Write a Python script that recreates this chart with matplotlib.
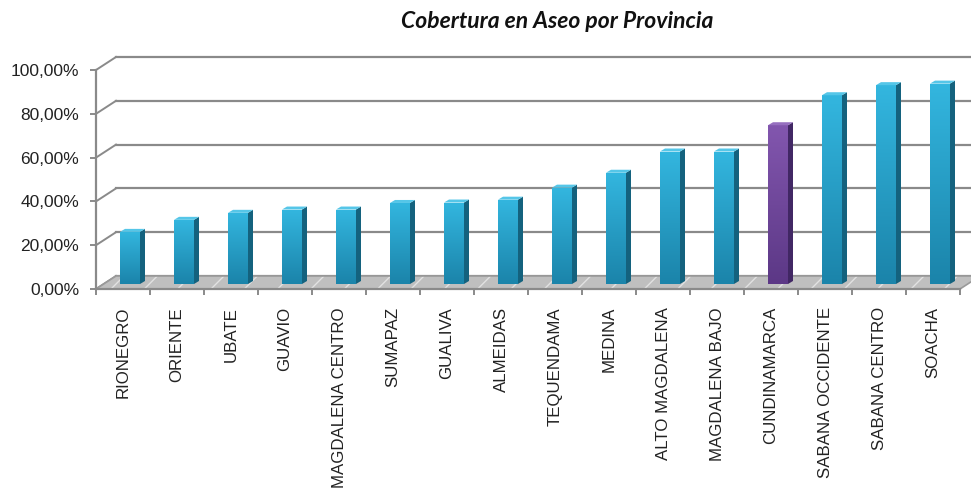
import numpy as np
import matplotlib
matplotlib.use("Agg")
import matplotlib.pyplot as plt
from matplotlib.patches import Polygon
from matplotlib.ticker import FixedLocator, FuncFormatter

# ---------------------------
# Data
# ---------------------------
provincias = ["RIONEGRO", "ORIENTE", "UBATE", "GUAVIO", "MAGDALENA CENTRO",
              "SUMAPAZ", "GUALIVA", "ALMEIDAS", "TEQUENDAMA", "MEDINA",
              "ALTO MAGDALENA", "MAGDALENA BAJO", "CUNDINAMARCA",
              "SABANA OCCIDENTE", "SABANA CENTRO", "SOACHA"]
cobertura = [23.8, 29.3, 32.5, 34.0, 34.0, 37.0, 37.2, 38.5, 44.0,
             50.8, 60.5, 60.5, 72.5, 86.2, 90.8, 91.5]
destacado = "CUNDINAMARCA"
y_ticks = [0, 20, 40, 60, 80, 100]

# ---------------------------
# Geometry of the fake 3D box
# ---------------------------
W, H, DPI = 971, 494, 100
PX_X, PX_Y = 54.0, 2.19          # pixels per category / per percent
X0, Y0 = 96, 289                 # pixel position of (0, 0)
xmin, xmax = -0.05, 16.4
ymin, ymax = -3, 110

depth_x, depth_y = 20 / PX_X, 13 / PX_Y      # back wall offset
bar_dx, bar_dy = 7 / PX_X, 5 / PX_Y          # bar depth position
bar_w = 20 / PX_X
side_dx, side_dy = 5 / PX_X, 3 / PX_Y

fig = plt.figure(figsize=(W / DPI, H / DPI), dpi=DPI)
left = (X0 + xmin * PX_X) / W
width = (xmax - xmin) * PX_X / W
bottom = 1 - (Y0 - ymin * PX_Y) / H
height = (ymax - ymin) * PX_Y / H
ax = fig.add_axes([left, bottom, width, height])

grid_c = "#8a8a8a"
n = len(provincias)

# back wall gridlines + left wall slants
for g in y_ticks:
    ax.plot([depth_x, n + depth_x + 1], [g + depth_y, g + depth_y],
            color=grid_c, lw=1.6, zorder=1)
    ax.plot([0, depth_x], [g, g + depth_y], color=grid_c, lw=1.4, zorder=1)

# floor
floor_pts = [(0, 0), (n, 0), (n + depth_x, depth_y), (depth_x, depth_y)]
ax.add_patch(Polygon(floor_pts, closed=True, facecolor="#bfbfbf",
                     edgecolor="#e2e2e2", hatch="/", lw=0, zorder=2))
ax.add_patch(Polygon(floor_pts, closed=True, fill=False,
                     edgecolor="#9a9a9a", lw=1.2, zorder=2))

# bars
x_front = np.arange(n) + 0.5 + bar_dx - bar_w / 2
cols = []
for p in provincias:
    cols.append("purple" if p == destacado else "cyan")

palette = {
    "cyan": ("#33b6df", "#1b84aa", "#14627e", "#55c6e8"),
    "purple": ("#8256ae", "#5c3886", "#412764", "#966fbf"),
}

bars = ax.bar(x_front, cobertura, width=bar_w, bottom=bar_dy, align="edge",
              color=[palette[c][1] for c in cols], lw=0, zorder=4)

for rect, val, c in zip(bars, cobertura, cols):
    top_c, bot_c, side_c, cap_c = palette[c]
    x0 = rect.get_x()
    x1 = x0 + rect.get_width()
    y0 = rect.get_y()
    y1 = y0 + rect.get_height()
    # vertical gradient on the front face
    grad = np.linspace(0, 1, 64).reshape(-1, 1)
    cmap = matplotlib.colors.LinearSegmentedColormap.from_list("g", [bot_c, top_c])
    im = ax.imshow(grad, extent=(x0, x1, y0, y1), origin="lower", cmap=cmap,
                   aspect="auto", zorder=4.5, interpolation="bilinear")
    im.set_clip_path(rect)
    # side face
    ax.add_patch(Polygon([(x1, y0), (x1 + side_dx, y0 + side_dy),
                          (x1 + side_dx, y1 + side_dy), (x1, y1)],
                         closed=True, facecolor=side_c, lw=0, zorder=4))
    # top cap
    ax.add_patch(Polygon([(x0, y1), (x1, y1), (x1 + side_dx, y1 + side_dy),
                          (x0 + side_dx, y1 + side_dy)],
                         closed=True, facecolor=cap_c, lw=0, zorder=5))

ax.set_xlim(xmin, xmax)
ax.set_ylim(ymin, ymax)

# axes lines
for s in ["top", "right"]:
    ax.spines[s].set_visible(False)
ax.spines["left"].set_bounds(0, 100)
ax.spines["left"].set_color(grid_c)
ax.spines["left"].set_linewidth(1.6)
ax.spines["left"].set_position(("data", 0))
ax.spines["bottom"].set_bounds(0, n)
ax.spines["bottom"].set_color(grid_c)
ax.spines["bottom"].set_linewidth(1.6)
ax.spines["bottom"].set_position(("data", 0))
ax.spines["bottom"].set_zorder(3)
ax.patch.set_visible(False)

ax.yaxis.set_major_locator(FixedLocator(y_ticks))
ax.yaxis.set_major_formatter(FuncFormatter(lambda v, pos: f"{v:.2f}%".replace(".", ",")))
ax.tick_params(axis="y", length=4, width=1.4, color=grid_c, pad=8,
               labelsize=12.5, labelcolor="#222222")

ax.xaxis.set_major_locator(FixedLocator(np.arange(n) + 0.5))
ax.set_xticklabels(provincias, rotation=90, fontsize=12.2, color="#222222",
                   va="top", ha="center")
ax.xaxis.set_minor_locator(FixedLocator(np.arange(n + 1)))
ax.tick_params(axis="x", which="major", length=0, pad=13)
ax.tick_params(axis="x", which="minor", length=4, width=1.4, color=grid_c)

for lab in ax.get_xticklabels() + ax.get_yticklabels():
    lab.set_fontfamily("Liberation Sans")

fig.text(557 / W, 1 - 21 / H, "Cobertura en Aseo por Provincia",
         ha="center", va="center", fontsize=16.5, fontweight="bold",
         fontstyle="italic", family="Lato", color="#111111")

fig.savefig("out.png", dpi=DPI)
